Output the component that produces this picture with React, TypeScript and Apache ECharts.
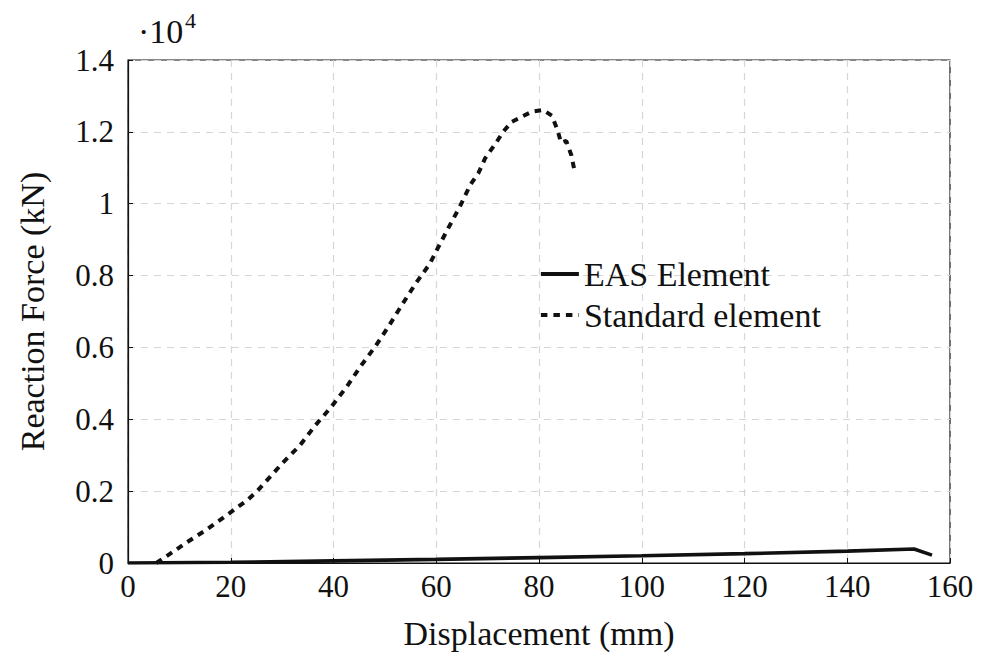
import React, { useEffect, useRef } from "react";
import * as echarts from "echarts";

// Reaction force (kN) against displacement (mm)
const easDisplacement = [0, 20, 40, 60, 80, 100, 120, 140, 153, 156.5];
const easForce = [0, 20, 60, 100, 150, 200, 260, 330, 390, 220];

const stdDisplacement = [
  5.5, 7.2, 11.4, 15.4, 19.5, 23.4, 25.2, 30, 33.5, 36.4, 39.6, 42.6, 45.2,
  48.1, 50.7, 53.3, 56, 58.8, 60.1, 62.3, 64.6, 66.6, 68.2, 69.5, 71.8, 73,
  74.7, 76.6, 78.6, 80.8, 82.5, 83.6, 84.3, 85.3, 86.3, 87,
];
const stdForce = [
  0, 160, 570, 940, 1360, 1770, 2010, 2770, 3280, 3820, 4350, 4910, 5460,
  6020, 6580, 7180, 7780, 8340, 8710, 9310, 9920, 10520, 10850, 11260, 11730,
  12000, 12280, 12420, 12560, 12610, 12450, 12050, 11700, 11750, 11350, 10850,
];

const xTicks = { min: 0, max: 160, interval: 20 };
const yTicks = { min: 0, max: 14000, interval: 2000 };
const yScale = 10000;

const FONT = "'Liberation Serif', 'DejaVu Serif', serif";
const INK = "#111";

export default function App() {
  const ref = useRef<HTMLDivElement>(null);

  useEffect(() => {
    if (!ref.current) return;
    const chart = echarts.init(ref.current, undefined, { renderer: "svg" });
    const easData = easDisplacement.map((x, i) => [x, easForce[i]]);
    const stdData = stdDisplacement.map((x, i) => [x, stdForce[i]]);

    const gridLine = { show: true, lineStyle: { color: "#d6d6d6", type: [7, 6], width: 1.2 } };

    chart.setOption({
      animation: false,
      backgroundColor: "#fff",
      textStyle: { fontFamily: FONT, color: INK },
      grid: {
        left: 128,
        right: 42,
        top: 60,
        bottom: 96,
        show: true,
        borderColor: INK,
        borderWidth: 1.2,
        backgroundColor: "transparent",
      },
      legend: {
        orient: "vertical",
        left: 534,
        top: 252,
        itemWidth: 38,
        itemHeight: 14,
        itemGap: 7,
        itemStyle: { opacity: 0 },
        lineStyle: { width: 3.8 },
        textStyle: { fontFamily: FONT, fontSize: 34, color: INK },
        data: ["EAS Element", "Standard element"],
      },
      xAxis: {
        type: "value",
        min: xTicks.min,
        max: xTicks.max,
        interval: xTicks.interval,
        name: "Displacement (mm)",
        nameLocation: "middle",
        nameGap: 53,
        nameTextStyle: { fontFamily: FONT, fontSize: 34, color: INK },
        axisLine: { show: true, onZero: false, lineStyle: { color: INK, width: 1.2 } },
        axisTick: { show: true, inside: true, length: 5, lineStyle: { color: INK } },
        axisLabel: { fontFamily: FONT, fontSize: 31, color: INK, margin: 8 },
        splitLine: gridLine,
      },
      yAxis: {
        type: "value",
        min: yTicks.min,
        max: yTicks.max,
        interval: yTicks.interval,
        name: "Reaction Force (kN)",
        nameLocation: "middle",
        nameGap: 79,
        nameTextStyle: { fontFamily: FONT, fontSize: 34, color: INK },
        axisLine: { show: true, lineStyle: { color: INK, width: 1.2 } },
        axisTick: { show: true, inside: true, length: 5, lineStyle: { color: INK } },
        axisLabel: {
          fontFamily: FONT,
          fontSize: 31,
          color: INK,
          margin: 14,
          formatter: (v: number) => String(Math.round((v / yScale) * 10) / 10),
        },
        splitLine: gridLine,
      },
      graphic: [
        {
          type: "text",
          left: 138,
          top: 14,
          style: { text: "·10", fontFamily: FONT, fontSize: 34, fill: INK },
        },
        {
          type: "text",
          left: 185,
          top: 9,
          style: { text: "4", fontFamily: FONT, fontSize: 22, fill: INK },
        },
      ],
      series: [
        {
          name: "EAS Element",
          type: "line",
          data: easData,
          symbol: "none",
          lineStyle: { color: "#111", width: 3.6 },
          itemStyle: { color: "#111" },
          z: 3,
        },
        {
          name: "Standard element",
          type: "line",
          data: stdData,
          symbol: "none",
          lineStyle: { color: "#111", width: 4, type: [6.5, 6] },
          itemStyle: { color: "#111" },
          z: 3,
        },
      ],
    });

    return () => chart.dispose();
  }, []);

  return (
    <div
      ref={ref}
      style={{ position: "fixed", left: 0, top: 0, width: 992, height: 659 }}
    />
  );
}
